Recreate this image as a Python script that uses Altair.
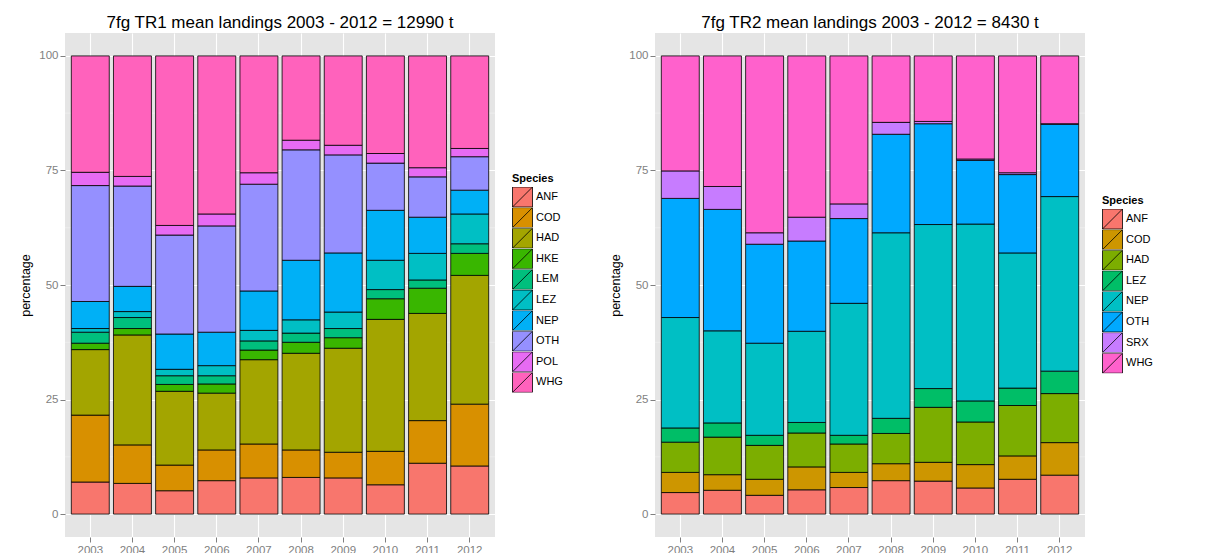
import altair as alt
import pandas as pd

years = ["2003", "2004", "2005", "2006", "2007", "2008", "2009", "2010", "2011", "2012"]

# ---- TR1 (percentages by species, bottom to top) ----
tr1_species = ["ANF", "COD", "HAD", "HKE", "LEM", "LEZ", "NEP", "OTH", "POL", "WHG"]
tr1_colors = ["#F8766D", "#D89000", "#A3A500", "#39B600", "#00BF7D",
              "#00BFC4", "#00B0F6", "#9590FF", "#E76BF3", "#FF62BC"]
tr1_anf = [7.0, 6.7, 5.1, 7.3, 7.9, 8.0, 7.9, 6.4, 11.1, 10.5]
tr1_cod = [14.6, 8.4, 5.6, 6.7, 7.4, 6.0, 5.6, 7.3, 9.3, 13.5]
tr1_had = [14.3, 24.0, 16.1, 12.4, 18.4, 21.1, 22.7, 28.8, 23.4, 28.1]
tr1_hke = [1.4, 1.4, 1.5, 2.0, 2.1, 2.4, 2.3, 4.5, 5.5, 4.8]
tr1_lem = [2.4, 2.4, 1.9, 1.8, 2.0, 2.0, 2.0, 2.0, 1.8, 2.1]
tr1_lez = [0.8, 1.3, 1.4, 2.2, 2.3, 2.9, 3.6, 6.4, 5.8, 6.5]
tr1_nep = [5.9, 5.5, 7.7, 7.3, 8.6, 13.0, 12.9, 10.9, 7.9, 5.2]
tr1_oth = [25.3, 21.9, 21.6, 23.2, 23.3, 24.1, 21.4, 10.3, 8.8, 7.3]
tr1_pol = [2.9, 2.1, 2.1, 2.6, 2.5, 2.1, 2.1, 2.1, 2.0, 1.8]
tr1_whg = [25.4, 26.3, 37.0, 34.5, 25.5, 18.4, 19.5, 21.3, 24.4, 20.2]

# ---- TR2 ----
tr2_species = ["ANF", "COD", "HAD", "LEZ", "NEP", "OTH", "SRX", "WHG"]
tr2_colors = ["#F8766D", "#CD9600", "#7CAE00", "#00BE67",
              "#00BFC4", "#00A9FF", "#C77CFF", "#FF61CC"]
tr2_anf = [4.7, 5.2, 4.1, 5.3, 5.8, 7.3, 7.2, 5.7, 7.6, 8.5]
tr2_cod = [4.4, 3.4, 3.5, 5.0, 3.3, 3.7, 4.1, 5.1, 5.1, 7.1]
tr2_had = [6.6, 8.2, 7.4, 7.4, 6.2, 6.6, 12.0, 9.3, 11.0, 10.7]
tr2_lez = [3.1, 3.1, 2.2, 2.3, 1.9, 3.3, 4.1, 4.6, 3.8, 4.9]
tr2_nep = [24.1, 20.1, 20.1, 19.9, 28.8, 40.5, 35.8, 38.6, 29.5, 38.1]
tr2_oth = [26.0, 26.5, 21.6, 19.7, 18.5, 21.5, 22.0, 13.9, 17.1, 15.8]
tr2_srx = [6.0, 5.0, 2.5, 5.2, 3.2, 2.6, 0.5, 0.3, 0.4, 0.1]
tr2_whg = [25.1, 28.5, 38.6, 35.2, 32.3, 14.5, 14.3, 22.5, 25.5, 14.8]

titles = ["7fg TR1 mean landings 2003 - 2012 = 12990 t",
          "7fg TR2 mean landings 2003 - 2012 = 8430 t"]
major_ticks = [0, 25, 50, 75, 100]
minor_ticks = [12.5, 37.5, 62.5, 87.5]


def long_frame(species, series):
    rows = []
    for k, (sp, vals) in enumerate(zip(species, series)):
        for y, v in zip(years, vals):
            rows.append({"year": y, "species": sp, "pct": v, "ord": k})
    return pd.DataFrame(rows)


df1 = long_frame(tr1_species, [tr1_anf, tr1_cod, tr1_had, tr1_hke, tr1_lem,
                               tr1_lez, tr1_nep, tr1_oth, tr1_pol, tr1_whg])
df2 = long_frame(tr2_species, [tr2_anf, tr2_cod, tr2_had, tr2_lez, tr2_nep,
                               tr2_oth, tr2_srx, tr2_whg])

FONT = "Liberation Sans"
KEY = "M-1,-1L1,-1L1,1L-1,1Z M-1,1L1,-1"


def panel(df, species, colors, title, leg_y):
    yscale = alt.Scale(domain=[-5, 105], nice=False, zero=False)
    minor = alt.Chart(pd.DataFrame({"v": minor_ticks})).mark_rule(
        color="#F2F2F2", strokeWidth=0.6
    ).encode(y=alt.Y("v:Q", scale=yscale))
    bars = alt.Chart(df).mark_bar(stroke="black", strokeWidth=0.8).encode(
        x=alt.X("year:N", title=None,
                scale=alt.Scale(paddingInner=0.1, paddingOuter=0.15),
                axis=alt.Axis(labelAngle=0, grid=True, gridColor="white",
                              gridWidth=1.1, domain=False, tickColor="#7F7F7F",
                              tickSize=5, labelColor="#7F7F7F", labelFontSize=11.5,
                              labelFont=FONT, labelPadding=2)),
        y=alt.Y("pct:Q", stack="zero", scale=yscale,
                axis=alt.Axis(values=major_ticks, title="percentage", grid=True,
                              gridColor="white", gridWidth=1.1, domain=False,
                              tickColor="#7F7F7F", tickSize=5,
                              labelColor="#7F7F7F", labelFontSize=11.5,
                              labelFont=FONT, labelPadding=2,
                              titleFont=FONT, titleFontSize=12.5,
                              titleFontWeight="normal", titleColor="black",
                              titlePadding=6)),
        color=alt.Color("species:N",
                        scale=alt.Scale(domain=species, range=colors),
                        legend=alt.Legend(title="Species", orient="none",
                                          legendX=447, legendY=leg_y,
                                          padding=0,
                                          symbolType=KEY, symbolSize=400,
                                          symbolStrokeColor="black",
                                          symbolStrokeWidth=0.8,
                                          symbolOpacity=1,
                                          clipHeight=20,
                                          titleFont=FONT, titleFontSize=11,
                                          titleFontWeight="bold",
                                          titleColor="black", titlePadding=3,
                                          labelFont=FONT, labelFontSize=11,
                                          labelColor="black", labelOffset=3,
                                          rowPadding=0.6)),
        order=alt.Order("ord:Q"),
    )
    return alt.layer(minor, bars).properties(
        width=430, height=504,
        title=alt.TitleParams(title, fontSize=17, font=FONT,
                              fontWeight="normal", color="black",
                              anchor="middle", frame="group", offset=1),
    )


left = panel(df1, tr1_species, tr1_colors, titles[0], 140)
right = panel(df2, tr2_species, tr2_colors, titles[1], 162)

chart = alt.hconcat(left, right, spacing=46).resolve_scale(
    color="independent"
).properties(
    padding={"left": 11, "top": 6, "right": 5, "bottom": 0},
    background="white",
).configure_view(
    fill="#E5E5E5", strokeWidth=0
)

chart.save("out.html", embed_options={"renderer": "svg", "actions": False})
